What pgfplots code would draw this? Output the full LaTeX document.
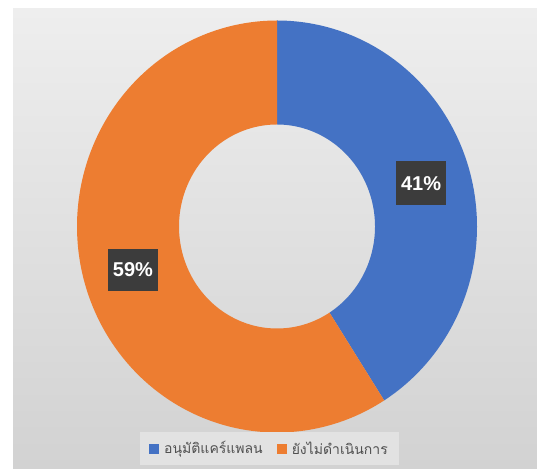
\documentclass[border=0pt]{standalone}
\usepackage{pgfplots}
\pgfplotsset{compat=1.18}
\usepackage{pgfplotstable}
\usepackage{fontspec}
\setmainfont{Liberation Sans}
\newfontfamily\thaifont[Script=Thai]{Loma}
\definecolor{cblue}{HTML}{4472C4}
\definecolor{corange}{HTML}{ED7D31}
\definecolor{labbg}{HTML}{3C3C3C}
\definecolor{bgtop}{HTML}{EEEEEE}
\definecolor{bgbot}{HTML}{D2D2D2}
\definecolor{legbg}{HTML}{E2E2E2}
\definecolor{legtext}{HTML}{505050}
\pgfplotstableread{
name value
A 41
B 59
}\data
\pgfplotstablegetelem{0}{value}\of\data \let\valA\pgfplotsretval
\pgfplotstablegetelem{1}{value}\of\data \let\valB\pgfplotsretval
\pgfmathsetmacro\aS{90}
\pgfmathsetmacro\aM{90-3.6*\valA}
\pgfmathsetmacro\aE{90-3.6*(\valA+\valB)}
\pgfmathsetmacro\mA{(\aS+\aM)/2}
\pgfmathsetmacro\mB{(\aM+\aE)/2}
\begin{document}
\begin{tikzpicture}
\fill[white] (0,0) rectangle (537pt,468pt);
\shade[top color=bgtop, bottom color=bgbot] (13pt,0) rectangle (537pt,459pt);
\begin{axis}[
  at={(0,0)}, anchor=south west,
  x=1pt, y=1pt, xmin=0, xmax=537, ymin=0, ymax=468,
  hide axis, clip=false,
  legend columns=2,
  legend style={at={(axis cs:269.5,19.5)}, anchor=center, draw=none, fill=legbg, text=legtext,
    font=\thaifont\fontsize{14}{16}\selectfont, inner xsep=9pt, inner ysep=7pt,
    /tikz/every even column/.append style={column sep=12pt}},
  legend image code/.code={\fill[#1] (0pt,-5pt) rectangle (10pt,5pt); \path (13pt,0pt);},
]
\addplot[fill=cblue, draw=none, samples at={0,1,...,401}]
  ({277 + ((x>200.5) ? 98 : 200)*cos(\aS + (\aM-\aS)*min(min(x,401-x),200)/200)},
   {241.5 + ((x>200.5) ? 102 : 206)*sin(\aS + (\aM-\aS)*min(min(x,401-x),200)/200)});
\addlegendentry{อนุมัติแคร์แพลน}
\addplot[fill=corange, draw=none, samples at={0,1,...,401}]
  ({277 + ((x>200.5) ? 98 : 200)*cos(\aM + (\aE-\aM)*min(min(x,401-x),200)/200)},
   {241.5 + ((x>200.5) ? 102 : 206)*sin(\aM + (\aE-\aM)*min(min(x,401-x),200)/200)});
\addlegendentry{ยังไม่ดำเนินการ}
\node[fill=labbg, text=white, font=\bfseries\fontsize{20}{24}\selectfont, minimum width=50pt, minimum height=44pt, inner sep=0pt]
  at (axis cs:{277+150*cos(\mA)},{241.5+155*sin(\mA)}) {\valA\%};
\node[fill=labbg, text=white, font=\bfseries\fontsize{20}{24}\selectfont, minimum width=50pt, minimum height=42pt, inner sep=0pt]
  at (axis cs:{277+150*cos(\mB)},{241.5+155*sin(\mB)}) {\valB\%};
\end{axis}
\end{tikzpicture}
\end{document}
